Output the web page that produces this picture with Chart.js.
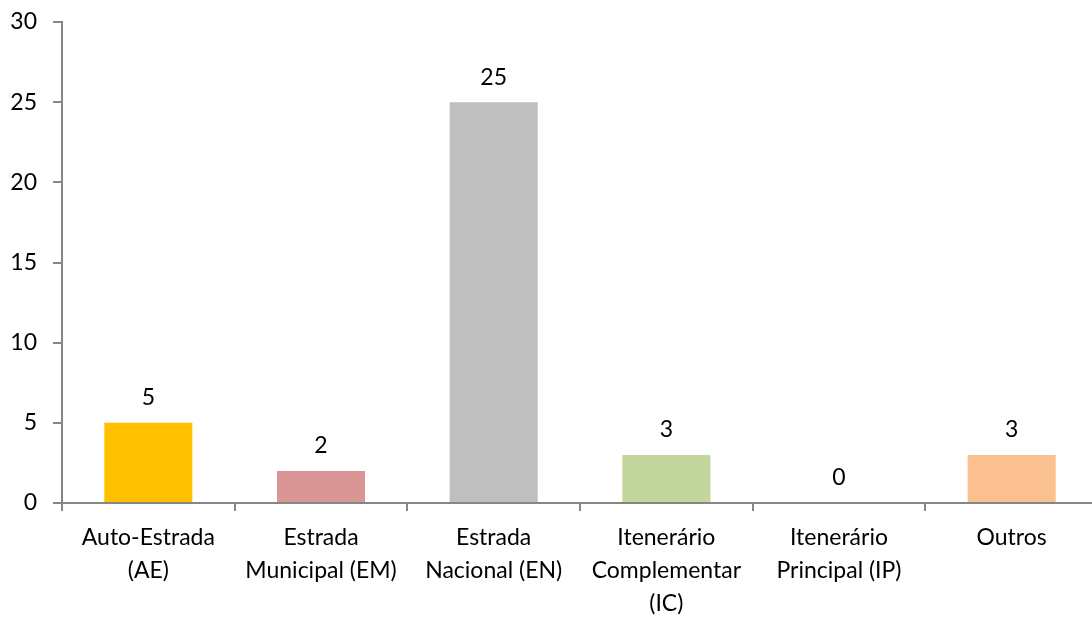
<!DOCTYPE html>
<html>
<head>
<meta charset="utf-8">
<script src="https://cdn.jsdelivr.net/npm/chart.js@4/dist/chart.umd.min.js"></script>
<style>
    html, body {
        margin: 0;
        padding: 0;
        background: #fff;
        overflow: hidden;
    }
    #wrap {
        width: 1098px;
        height: 618px;
    }
</style>
</head>
<body>
<div id="wrap"><canvas id="chart"></canvas></div>
<script>
const categories = [
    ["Auto-Estrada", "(AE)"],
    ["Estrada", "Municipal (EM)"],
    ["Estrada", "Nacional (EN)"],
    ["Itenerário", "Complementar", "(IC)"],
    ["Itenerário", "Principal (IP)"],
    "Outros",
];
const values = [5, 2, 25, 3, 0, 3];
const barColors = ["#FFC000", "#D99694", "#BFBFBF", "#C3D69B", "#B9CDE5", "#FAC090"];
const yTicks = [0, 5, 10, 15, 20, 25, 30];

const axisColor = "#868686";
const fontFamily = "Lato, 'Open Sans', sans-serif";

const valueLabels = {
    id: "valueLabels",
    afterDatasetsDraw(chart) {
        const ctx = chart.ctx;
        const meta = chart.getDatasetMeta(0);
        ctx.save();
        ctx.font = "23px " + fontFamily;
        ctx.fillStyle = "#000";
        ctx.textAlign = "center";
        ctx.textBaseline = "middle";
        meta.data.forEach((bar, i) => {
            ctx.fillText(String(values[i]), bar.x, bar.y - 25);
        });
        ctx.restore();
    },
};

new Chart(document.getElementById("chart"), {
    type: "bar",
    data: {
        labels: categories,
        datasets: [
            {
                data: values,
                backgroundColor: barColors,
                barPercentage: 0.51,
                categoryPercentage: 1,
            },
        ],
    },
    options: {
        responsive: true,
        maintainAspectRatio: false,
        animation: false,
        layout: {
            padding: { top: 22, right: 0, left: 0, bottom: 0 },
        },
        plugins: {
            legend: { display: false },
            tooltip: { enabled: false },
        },
        scales: {
            x: {
                afterFit(scale) {
                    scale.height = 115;
                },
                border: { color: axisColor, width: 2 },
                grid: {
                    offset: true,
                    drawOnChartArea: false,
                    drawTicks: true,
                    tickLength: 8,
                    color: axisColor,
                    lineWidth: 2,
                },
                ticks: {
                    color: "#000",
                    padding: 10,
                    maxRotation: 0,
                    autoSkip: false,
                    font: { family: fontFamily, size: 23, lineHeight: 1.43 },
                },
            },
            y: {
                min: 0,
                max: 30,
                afterFit(scale) {
                    scale.width = 62;
                    // tick padding would otherwise push the plot top down
                    scale.paddingTop = 0;
                    scale.paddingBottom = 0;
                },
                afterBuildTicks(scale) {
                    scale.ticks = yTicks.map((v) => ({ value: v }));
                },
                border: { color: axisColor, width: 2 },
                grid: {
                    drawOnChartArea: false,
                    drawTicks: true,
                    tickLength: 9,
                    color: axisColor,
                    lineWidth: 2,
                },
                ticks: {
                    color: "#000",
                    padding: 16,
                    font: { family: fontFamily, size: 23 },
                },
            },
        },
    },
    plugins: [valueLabels],
});
</script>
</body>
</html>
